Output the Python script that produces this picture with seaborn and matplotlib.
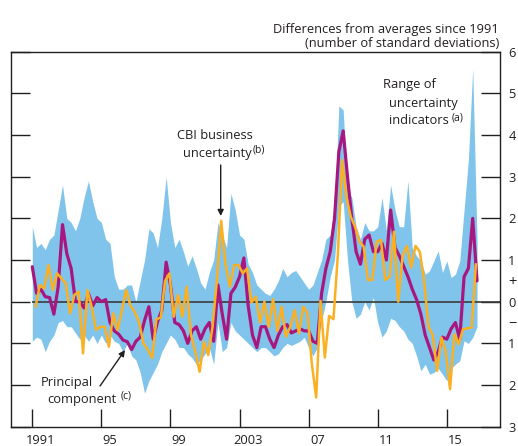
import numpy as np
import pandas as pd
import matplotlib
matplotlib.use("Agg")
import matplotlib.pyplot as plt
import seaborn as sns

# ---------------- data (quarterly, from 1991 Q1) ----------------
start_year = 1991

principal = [
    0.84, 0.2, 0.3, 0.12, 0.1, -0.3, 0.36, 1.85, 1.15, 0.8,
    0.0, 0.0, -0.15, 0.2, -0.1, 0.1, 0.0, 0.05, -0.5, -0.7,
    -0.78, -0.92, -0.96, -1.15, -0.95, -0.85, -0.45, -0.12, -0.9, -0.48,
    -0.2, 0.95, 0.4, -0.5, -0.55, -0.7, -1.0, -0.7, -0.6, -0.9,
    -0.65, -0.5, -0.95, 0.4, -0.3, -0.9, 0.2, 0.35, 0.6, 1.05,
    -0.1, -0.8, -1.1, -0.6, -0.6, -0.9, -1.1, -0.8, -0.6, -0.55,
    -0.75, -0.7, -0.65, -0.7, -0.7, -0.95, -1.0, 0.2, 0.8, 1.2,
    2.0, 3.6, 4.1, 3.0, 2.0, 1.2, 0.9, 1.5, 1.6, 1.2,
    1.2, 1.4, 1.0, 2.2, 1.3, 1.1, 0.85, 0.6, 0.3, 0.05,
    -0.3, -0.8, -1.1, -1.4, -1.2, -0.85, -0.9, -0.65, -0.5, -0.9,
    0.6, 0.8, 2.0, 0.5,
]

range_high = [
    1.8, 1.3, 1.4, 1.25, 1.5, 1.6, 2.2, 2.8, 2.0, 1.9,
    1.7, 2.0, 2.5, 2.9, 2.4, 2.0, 1.9, 1.5, 1.4, 0.6,
    0.3, 0.3, 0.4, 0.4, 0.0, 0.5, 1.0, 1.75, 1.65, 1.3,
    2.0, 3.0, 1.9, 1.3, 1.5, 1.2, 0.85, 1.1, 0.8, 0.45,
    0.3, 0.7, 1.0, 1.9, 1.6, 1.3, 2.6, 2.2, 1.6, 1.5,
    0.9, 0.7, 0.4, 0.3, 0.2, 0.15, 0.3, 0.5, 0.8, 0.6,
    0.7, 0.75, 0.6, 0.45, 0.3, 0.4, 0.7, 1.0, 1.5, 1.6,
    2.2, 4.7, 4.6, 2.7, 2.5, 1.8, 1.5, 1.9, 1.7, 1.7,
    1.8, 2.5, 1.7, 2.8, 2.2, 1.8, 1.8, 2.9, 1.3, 1.1,
    0.98, 0.66, 0.74, 0.98, 1.22, 0.7, 0.98, 0.58, 0.66, 0.98,
    2.2, 3.4, 5.6, 1.5,
]

range_low = [
    -0.95, -0.85, -0.9, -1.2, -0.95, -0.8, -0.5, -0.45, -0.6, -0.6,
    -0.75, -0.9, -0.8, -0.95, -0.8, -1.0, -0.8, -1.0, -0.8, -0.95,
    -1.0, -1.2, -1.0, -1.3, -1.4, -1.7, -2.2, -1.9, -1.7, -1.5,
    -1.2, -1.0, -0.8, -0.9, -1.1, -1.1, -1.25, -1.35, -1.5, -1.4,
    -1.25, -1.1, -1.5, -0.5, -1.2, -1.1, -0.5, -0.7, -0.8, -0.9,
    -1.0, -1.1, -1.2, -1.1, -1.1, -1.2, -1.3, -1.25, -1.1, -1.0,
    -1.05, -1.0, -0.95, -0.85, -1.1, -1.3, -1.1, -0.45, 0.0, 0.6,
    1.0, 2.3, 2.4, 1.0, 0.0, -0.4, -0.3, 0.0, -0.2, 0.1,
    -0.5, -0.85, -0.7, -0.4, -0.45, -0.6, -0.7, -0.9, -1.0, -1.3,
    -1.66, -1.5, -1.74, -1.7, -1.6, -1.74, -1.9, -1.6, -1.5, -1.42,
    -0.94, -1.0, -0.86, -0.6,
]

cbi = [
    -0.12, 0.4, 0.32, 0.88, 0.28, 0.68, 0.56, 0.44, -0.28, 0.16,
    0.24, -1.24, 0.28, -0.12, -0.68, -0.6, -0.6, -1.08, -0.28, -0.68,
    -0.2, 0.28, -0.1, -0.25, -0.5, -1.0, -1.15, -1.35, -0.42, -0.38,
    0.5, 0.68, -0.36, 0.16, -0.36, 0.36, -0.8, -1.2, -1.68, -0.96,
    -1.28, -0.6, 0.5, 1.94, 0.9, 0.36, 0.88, 0.88, 0.68, 0.8,
    -0.02, 0.12, -0.5, 0.0, -0.6, 0.06, -0.7, -0.12, -0.84, -0.6,
    -0.2, -0.76, -0.12, -0.28, -1.5, -2.3, 0.02, -1.34, -0.34, -0.42,
    1.1, 3.4, 2.52, 2.04, 1.8, 1.45, 1.32, 0.52, 0.52, 1.44,
    1.48, 0.52, 0.6, 1.68, 0.0, 1.1, 1.34, 0.82, 1.34, 1.2,
    0.5, -0.6, -0.8, -1.66, -0.86, -1.18, -2.1, -0.78, -1.02, -0.66,
    -0.64, -0.62, 0.9,
]

x_tick_years = [1991, 1995, 1999, 2003, 2007, 2011, 2015]
x_tick_labels = ["1991", "95", "99", "2003", "07", "11", "15"]
y_tick_values = [-3, -2, -1, 0, 1, 2, 3, 4, 5, 6]
y_tick_labels = ["3", "2", "1", "0", "1", "2", "3", "4", "5", "6"]
y_sign_values = [-0.5, 0.5]
y_sign_labels = ["\u2212", "+"]

# ---------------- styling ----------------
sns.set_style("white")
plt.rcParams["font.family"] = ["Open Sans", "DejaVu Sans"]
TXT = "#231f20"
BLUE = "#80c4ec"
MAGENTA = "#a8177f"
ORANGE = "#fbb022"

W, H = 518, 446
fig = plt.figure(figsize=(W / 100, H / 100), dpi=100)
L, R, T, B = 10.7, 500.0, 51.7, 426.7
ax = fig.add_axes([L / W, 1 - B / H, (R - L) / W, (B - T) / H])

q_dates = start_year + 0.25 * np.arange(len(principal))
cbi_dates = start_year + 0.1875 + 0.25 * np.arange(len(cbi))

df_pc = pd.DataFrame({"date": q_dates, "value": principal})
df_cbi = pd.DataFrame({"date": cbi_dates, "value": cbi})

ax.fill_between(q_dates, range_low, range_high, color=BLUE, linewidth=0, zorder=1)

x_right = 2018.08
ax.hlines(0, start_year, x_right, color="#3a3a3a", linewidth=1.2, zorder=2)

sns.lineplot(data=df_pc, x="date", y="value", ax=ax, color=MAGENTA,
             linewidth=2.3, legend=False, zorder=3)
sns.lineplot(data=df_cbi, x="date", y="value", ax=ax, color=ORANGE,
             linewidth=1.8, legend=False, zorder=4)

ax.set_xlim(1989.75, x_right)
ax.set_ylim(-3, 6)
ax.set_xlabel("")
ax.set_ylabel("")

for s in ax.spines.values():
    s.set_color(TXT)
    s.set_linewidth(1.0)

# x ticks: marks at start of years, labels centred in year
ax.set_xticks(x_tick_years)
ax.set_xticklabels([""] * len(x_tick_years))
ax.set_xticks([y + 0.5 for y in x_tick_years], minor=True)
ax.set_xticklabels(x_tick_labels, minor=True)
ax.tick_params(axis="x", which="major", direction="in", length=13, width=1.0,
               color=TXT, bottom=True, top=False)
ax.tick_params(axis="x", which="minor", length=0, pad=5.5, labelsize=9.3,
               labelcolor=TXT)

# y ticks
ax.set_yticks(y_tick_values)
ax.set_yticklabels(y_tick_labels)
ax.set_yticks(y_sign_values, minor=True)
ax.set_yticklabels(y_sign_labels, minor=True)
ax.tick_params(axis="y", which="major", direction="in", length=14, width=1.0,
               color=TXT, left=True, right=True, labelleft=False,
               labelright=True, pad=6, labelsize=9.3, labelcolor=TXT)
ax.tick_params(axis="y", which="minor", length=0, left=False, right=False,
               labelleft=False, labelright=True, pad=6, labelsize=10.5,
               labelcolor=TXT)
for lab in ax.get_yticklabels(minor=True) + ax.get_yticklabels():
    lab.set_horizontalalignment("left")


def ftext(x, y, s, size=9.3, **kw):
    fig.text(x / W, 1 - y / H, s, size=size, color=TXT, **kw)


ftext(499, 33.3, "Differences from averages since 1991", ha="right", va="baseline")
ftext(499, 46.7, "(number of standard deviations)", ha="right", va="baseline")

ftext(383, 88.3, "Range of", ha="left", va="baseline")
ftext(389, 106.5, "uncertainty", ha="left", va="baseline")
ftext(389, 124.5, "indicators", ha="left", va="baseline")
ftext(451.5, 120, "(a)", size=7.5, ha="left", va="baseline")

ftext(253, 139.3, "CBI business", ha="right", va="baseline")
ftext(252, 157.3, "uncertainty", ha="right", va="baseline")
ftext(253, 152, "(b)", size=7.5, ha="left", va="baseline")

ftext(40.5, 385.7, "Principal", ha="left", va="baseline")
ftext(47.5, 402.7, "component", ha="left", va="baseline")
ftext(120.5, 398, "(c)", size=7.5, ha="left", va="baseline")

ax.annotate("", xy=(220.7 / W, 1 - 216 / H), xytext=(220.7 / W, 1 - 165 / H),
            xycoords="figure fraction", textcoords="figure fraction",
            arrowprops=dict(arrowstyle="-|>", color=TXT, lw=1.0,
                            mutation_scale=9, shrinkA=0, shrinkB=0))
ax.annotate("", xy=(125 / W, 1 - 350 / H), xytext=(100 / W, 1 - 386 / H),
            xycoords="figure fraction", textcoords="figure fraction",
            arrowprops=dict(arrowstyle="-|>", color=TXT, lw=1.0,
                            mutation_scale=9, shrinkA=0, shrinkB=0))

fig.savefig("out.png", dpi=100)
